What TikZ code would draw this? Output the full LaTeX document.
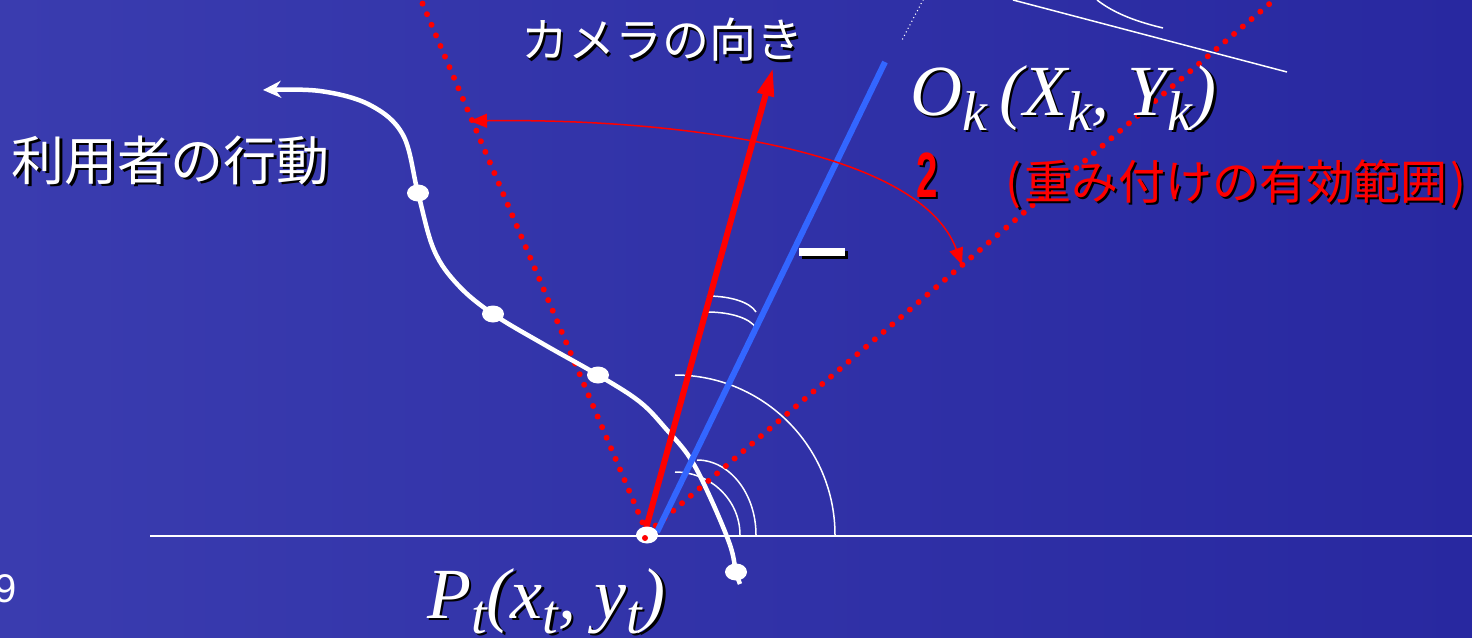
\documentclass[tikz,border=0pt]{standalone}
\usepackage{fontspec}
\usetikzlibrary{arrows.meta,shapes.geometric,calc}
\newfontfamily\jp{Noto Sans CJK JP}
\newfontfamily\tnr{Liberation Serif}
\newfontfamily\ars{Liberation Sans}
\definecolor{bg}{RGB}{40,40,160}
\definecolor{bgl}{RGB}{58,60,175}
\definecolor{camred}{RGB}{255,0,0}
\definecolor{objblue}{RGB}{51,102,255}
\newcommand{\stxt}[5]{%
  \node[#4,text=black,anchor=#3] (#1s) at ($(#2)+(2.5,2.5)$) {#5};
  \node[#4,anchor=#3] (#1) at (#2) {#5};}
\newcommand{\sbk}[1]{\raisebox{-15pt}{\fontsize{56}{56}\selectfont #1}}
\begin{document}
\begin{tikzpicture}[x=1pt,y=-1pt,
  thinwhite/.style={white,line width=1.5pt},
  reddot/.style={camred,line width=6pt,line cap=round,dash pattern=on 0pt off 11.5pt},
  whitedot/.style={white,line width=1.5pt,line cap=round,dash pattern=on 0pt off 4pt},
  camarrow/.style={camred,line width=6pt,-{Triangle[length=28pt,width=16pt]}},
  blueline/.style={objblue,line width=6pt},
  userpath/.style={white,line width=4.5pt,-{Stealth[length=18pt,width=17pt,inset=6pt]}},
  dotnode/.style={ellipse,fill=white,minimum width=22pt,minimum height=17pt,inner sep=0},
  redarc/.style={camred,line width=1.5pt,{Triangle[length=17pt,width=14pt]}-{Triangle[length=17pt,width=14pt]}},
  jpw/.style={text=white,inner sep=0,font=\jp\fontsize{47}{47}\selectfont},
  jpw2/.style={text=white,inner sep=0,font=\jp\fontsize{53}{53}\selectfont},
  jpr/.style={text=camred,inner sep=0,font=\jp\fontsize{47}{47}\selectfont},
  mathw/.style={text=white,inner sep=0,font=\tnr\itshape\fontsize{72}{72}\selectfont},
  twor/.style={text=camred,inner sep=0,font=\ars\bfseries\fontsize{64}{64}\selectfont}
]
\useasboundingbox (0,0) rectangle (1472,637);
\shade[left color=bgl,right color=bg] (0,0) rectangle (1472,637);

% top-right fragments
\coordinate (tr1) at (1013,0); \coordinate (tr2) at (1287,72);
\draw[thinwhite] (tr1) -- (tr2);
\coordinate (tc1) at (1097,0); \coordinate (tc2) at (1163,28);
\draw[thinwhite] (tc1) .. controls (1115,14) and (1138,22) .. (tc2);
\coordinate (wd1) at (923,0); \coordinate (wd2) at (902,40);
\draw[whitedot] (wd1) -- (wd2);

% baseline
\coordinate (hl) at (150,536); \coordinate (hr) at (1472,536);
\draw[thinwhite] (hl) -- (hr);

% angle marks
\coordinate (a1s) at (675,375);
\draw[thinwhite] (a1s) arc[start angle=-90,end angle=0,radius=160];
\coordinate (a2s) at (675,472);
\draw[thinwhite] (a2s) arc[start angle=-90,end angle=0,x radius=65,y radius=63];
\coordinate (a3s) at (697,460);
\draw[thinwhite] (a3s) arc[start angle=-90,end angle=0,x radius=59,y radius=75];
\coordinate (a4s) at (707,296); \coordinate (a4e) at (756,312);
\draw[thinwhite] (a4s) .. controls (730,296) and (750,302) .. (a4e);
\coordinate (a5s) at (707,312); \coordinate (a5e) at (756,328);
\draw[thinwhite] (a5s) .. controls (730,312) and (750,318) .. (a5e);

% effective range dotted lines
\coordinate (O) at (647,533);
\coordinate (L) at (421,0);
\coordinate (R) at (1274,0);
\draw[reddot] (O) -- (L);
\draw[reddot] (O) -- (R);

% user path
\node[dotnode] (d0) at (736,572) {};
\node[dotnode] (d1) at (598,375) {};
\node[dotnode] (d2) at (493,314) {};
\node[dotnode] (d3) at (418,193) {};
\coordinate (ustart) at (740,584);
\coordinate (uend) at (263,90);
\draw[userpath] plot[smooth,tension=0.6] coordinates {(ustart) (d0) (730,545) (710,497) (690,458) (667,430) (640,402) (d1) (545,345) (d2) (458,285) (434,250) (d3) (403,135) (370,105) (320,91) (uend)};

% blue object direction
\coordinate (bb) at (657,532); \coordinate (bt) at (885,62);
\draw[blueline] (bb) -- (bt);

% camera direction
\coordinate (cb) at (645,532); \coordinate (ct) at (773,68);
\draw[camarrow] (cb) -- (ct);

% origin
\node[ellipse,fill=white,minimum width=22pt,minimum height=17pt,inner sep=0] (P) at (647,535) {};
\node[circle,fill=camred,minimum size=6pt,inner sep=0] (Pr) at (645,538) {};

% weighted range arc
\coordinate (ra1) at (470,121); \coordinate (ra2) at (962,265);
\draw[redarc] (ra1) .. controls (680,118) and (920,150) .. (ra2);

% minus bar
\fill[black] (802,251) rectangle (848,259);
\node[fill=white,minimum width=46pt,minimum height=8pt,inner sep=0] (bar) at (822,252) {};

% texts
\stxt{cam}{662,40}{center}{jpw}{カメラの向き}
\stxt{usr}{171,160}{center}{jpw2}{利用者の行動}
\stxt{two}{927,175}{center}{twor}{\scalebox{0.6}[1]{2}}
\stxt{rng}{1236,184}{center}{jpr}{(\kern3pt重み付けの有効範囲\kern3pt)}
\stxt{Ok}{910,115}{base west}{mathw}{O\sbk{k}\,(X\sbk{k},\ Y\sbk{k})}
\stxt{Pt}{427,618}{base west}{mathw}{P\sbk{t}(x\sbk{t},\ y\sbk{t})}
\node[anchor=base west,inner sep=0,text=white,font=\ars\fontsize{40}{40}\selectfont] (pg) at (-6,602) {9};
\end{tikzpicture}
\end{document}
